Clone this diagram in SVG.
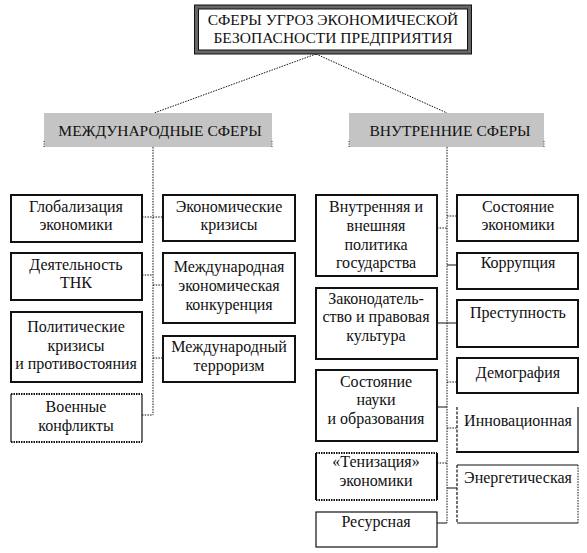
<svg xmlns="http://www.w3.org/2000/svg" width="587" height="553" viewBox="0 0 587 553">
<style>
text{font-family:"Liberation Serif","Times New Roman",serif;font-size:16px;fill:#111;text-anchor:middle}
.hd{font-size:15.5px}
.box{fill:#fff;stroke:#111;stroke-width:2}
.thin{fill:#fff;stroke:#111;stroke-width:1.2}
.bg{fill:#fff;stroke:none}
.gray{fill:#c4c4c4;stroke:none}
.dot{fill:none;stroke:#111;stroke-width:1;stroke-dasharray:1.5 1.2}
.sol{fill:none;stroke:#111;stroke-width:1.2}
.sol2{fill:none;stroke:#111;stroke-width:2}
.dash{fill:none;stroke:#111;stroke-width:1.2;stroke-dasharray:3 1.5}
.dot2{fill:none;stroke:#111;stroke-width:2;stroke-dasharray:1.5 1}
.mark{fill:none;stroke:#333;stroke-width:1;stroke-dasharray:1 1.5}
</style>
<rect width="587" height="553" fill="#fff"/>
<g id="connectors">
<path class="dot" d="M316 54L154 113M316 54L447 113"/>
<path class="dot" d="M153 147V415M447 147V523"/>
<path class="dot" d="M142 217H163M142 275H153M153 285H163M153 358H163M142 415H153"/>
<path class="dot" d="M447 216H457M437 228H447M447 382H457M447 428H457M437 463H447"/>
<path class="sol" d="M447 265H457M437 323H457M437 407H447M447 488H457M437 523H447"/>
</g>
<g id="root">
<rect x="196.5" y="7" width="273" height="45" fill="#fff" stroke="#666" stroke-width="4"/>
<rect x="194.5" y="5" width="277" height="49" fill="none" stroke="#111" stroke-width="1"/>
<rect x="198.5" y="9" width="269" height="41" fill="none" stroke="#111" stroke-width="1"/>
<text class="hd" x="333" y="25">СФЕРЫ УГРОЗ ЭКОНОМИЧЕСКОЙ</text>
<text class="hd" x="333" y="43">БЕЗОПАСНОСТИ ПРЕДПРИЯТИЯ</text>
</g>
<g id="international">
<rect class="gray" x="44" y="113" width="228" height="34"/>
<path class="mark" d="M44 141V148M272 141V148"/>
<text class="hd" x="160" y="136">МЕЖДУНАРОДНЫЕ СФЕРЫ</text>
</g>
<g id="internal">
<rect class="gray" x="349" y="113" width="195" height="34"/>
<path class="mark" d="M349 141V148M544 141V148"/>
<text class="hd" x="450" y="136">ВНУТРЕННИЕ СФЕРЫ</text>
</g>
<g id="globalization">
<rect class="box" x="11" y="195" width="131" height="47"/>
<text x="76" y="212">Глобализация</text>
<text x="76" y="230">экономики</text>
</g>
<g id="tnk">
<rect class="box" x="11" y="253" width="131" height="47"/>
<text x="76" y="270">Деятельность</text>
<text x="76" y="288">ТНК</text>
</g>
<g id="political">
<rect class="box" x="11" y="312" width="131" height="70"/>
<text x="76" y="332">Политические</text>
<text x="76" y="351">кризисы</text>
<text x="76" y="369">и противостояния</text>
</g>
<g id="military">
<rect class="bg" x="11" y="394" width="131" height="48"/>
<path class="sol" d="M11 394V442M142 394V442"/>
<path class="dot2" d="M11 394H142M11 442H142"/>
<text x="76" y="412">Военные</text>
<text x="76" y="431">конфликты</text>
</g>
<g id="econ-crises">
<rect class="box" x="163" y="195" width="132" height="46"/>
<text x="229" y="212">Экономические</text>
<text x="229" y="230">кризисы</text>
</g>
<g id="competition">
<rect class="box" x="163" y="253" width="132" height="70"/>
<text x="229" y="272">Международная</text>
<text x="229" y="291">экономическая</text>
<text x="229" y="310">конкуренция</text>
</g>
<g id="terrorism">
<rect class="box" x="163" y="336" width="132" height="46"/>
<text x="229" y="352">Международный</text>
<text x="229" y="371">терроризм</text>
</g>
<g id="policy">
<rect class="box" x="316" y="195" width="121" height="81"/>
<text x="376" y="212">Внутренняя и</text>
<text x="376" y="231">внешняя</text>
<text x="376" y="250">политика</text>
<text x="376" y="268">государства</text>
</g>
<g id="law">
<rect class="box" x="316" y="288" width="121" height="71"/>
<text x="376" y="304">Законодатель-</text>
<text x="376" y="322">ство и правовая</text>
<text x="376" y="341">культура</text>
</g>
<g id="science">
<rect class="box" x="316" y="370" width="121" height="71"/>
<text x="376" y="387">Состояние</text>
<text x="376" y="405">науки</text>
<text x="376" y="424">и образования</text>
</g>
<g id="shadow-econ">
<rect class="bg" x="316" y="453" width="121" height="47"/>
<path class="sol2" d="M316 453V500M437 453V500"/>
<path class="dot2" d="M316 453H437M316 500H437"/>
<text x="376" y="467">«Тенизация»</text>
<text x="376" y="486">экономики</text>
</g>
<g id="resource">
<rect class="thin" x="316" y="512" width="121" height="35"/>
<text x="376" y="527">Ресурсная</text>
</g>
<g id="economy-state">
<rect class="box" x="457" y="195" width="121" height="46"/>
<text x="518" y="212">Состояние</text>
<text x="518" y="230">экономики</text>
</g>
<g id="corruption">
<rect class="box" x="457" y="253" width="121" height="36"/>
<text x="518" y="268">Коррупция</text>
</g>
<g id="crime">
<rect class="box" x="457" y="300" width="121" height="47"/>
<text x="518" y="318">Преступность</text>
</g>
<g id="demography">
<rect class="box" x="457" y="358" width="121" height="35"/>
<text x="518" y="378">Демография</text>
</g>
<g id="innovation">
<rect class="bg" x="457" y="407" width="121" height="45"/>
<path class="dash" d="M457 407V452"/>
<path class="sol" d="M578 407V452"/>
<path class="sol2" d="M456 452H579"/>
<text x="518" y="426">Инновационная</text>
</g>
<g id="energy">
<rect class="bg" x="457" y="465" width="121" height="58"/>
<path class="sol" d="M457 465H578M457 523H578"/>
<path class="dash" d="M457 465V523"/>
<path class="dot" d="M578 465V523"/>
<text x="518" y="483">Энергетическая</text>
</g>
</svg>
